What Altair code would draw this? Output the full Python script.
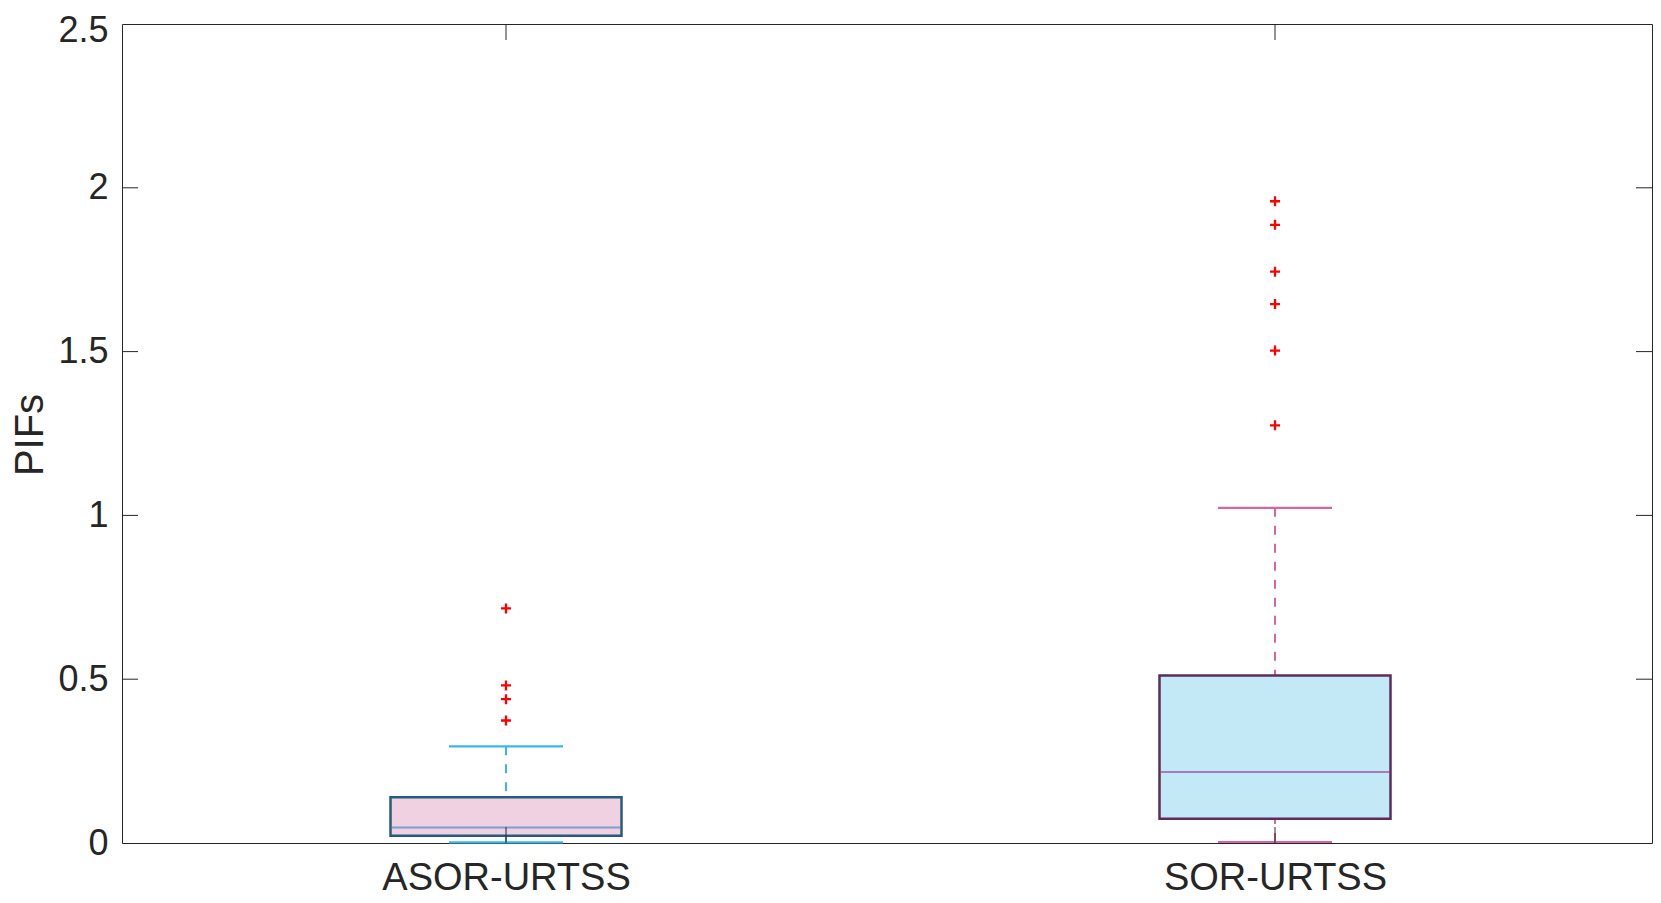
import altair as alt
import pandas as pd

# ---- data ----
categories = ["ASOR-URTSS", "SOR-URTSS"]
q1 = [0.022, 0.074]
medians = [0.047, 0.217]
q3 = [0.140, 0.511]
whisker_low = [0.002, 0.003]
whisker_high = [0.295, 1.023]
outliers_asor = [0.716, 0.481, 0.439, 0.374]
outliers_sor = [1.959, 1.887, 1.744, 1.645, 1.503, 1.275]
y_ticks = [0, 0.5, 1, 1.5, 2, 2.5]

# ---- layout / style ----
W, H = 1530, 819
BOX_PX = 231
CAP_PX = 114
FONT = "Liberation Sans"
AX = "#262626"
fills = ["#EFD1E1", "#C3E8F6"]
edges = ["#245C80", "#5E2B5E"]
med_colors = ["#7BA0D0", "#A57DB8"]
whisk_colors = ["#3DB5E8", "#D466A2"]
DASH = [9, 9]

boxes = pd.DataFrame({"cat": categories, "q1": q1, "med": medians, "q3": q3,
                      "lo": whisker_low, "hi": whisker_high})
out = pd.DataFrame({
    "cat": [categories[0]] * len(outliers_asor) + [categories[1]] * len(outliers_sor),
    "v": outliers_asor + outliers_sor,
})
ticks_df = pd.DataFrame({"v": y_ticks[1:-1]})
cats_df = pd.DataFrame({"cat": categories})

xscale = alt.Scale(type="point", domain=categories, padding=0, range=[384, 1153])
yscale = alt.Scale(domain=[0, 2.5], nice=False, zero=True)
xaxis = alt.Axis(title=None, labelFontSize=38, labelPadding=16, ticks=False, domain=False,
                 grid=False, labelColor=AX, labelFont=FONT, labelAngle=0, labelLimit=0)
yaxis = alt.Axis(title="PIFs", values=y_ticks, format=".1~f", labelFontSize=36, labelPadding=14,
                 ticks=False, domain=False, grid=False, labelColor=AX, labelFont=FONT,
                 labelFlush=False, labelOverlap=False,
                 labelOffset={"condition": {"test": "datum.value >= 2.5", "value": 6}, "value": 0},
                 titleFontSize=40, titleFontWeight="normal", titleColor=AX, titleFont=FONT,
                 titleAngle=270, titleX=-92, titleY=H / 2 + 1, titleAlign="center",
                 titleBaseline="middle")


def X():
    return alt.X("cat:N", scale=xscale, axis=xaxis)


def Y(f):
    return alt.Y(f"{f}:Q", scale=yscale, axis=yaxis)


layers = []
for i, c in enumerate(categories):
    base = alt.Chart(boxes).transform_filter(alt.datum.cat == c)
    layers.append(base.mark_rule(color=whisk_colors[i], strokeWidth=2, strokeDash=DASH)
                  .encode(x=X(), y=Y("hi"), y2="q3"))
    layers.append(base.mark_rule(color=whisk_colors[i], strokeWidth=2, strokeDash=DASH)
                  .encode(x=X(), y=Y("lo"), y2="q1"))
    layers.append(base.mark_tick(color=whisk_colors[i], size=CAP_PX, thickness=2.2, opacity=1)
                  .encode(x=X(), y=Y("hi")))
    layers.append(base.mark_tick(color=whisk_colors[i], size=CAP_PX, thickness=2.2, opacity=1)
                  .encode(x=X(), y=Y("lo")))
    layers.append(base.mark_bar(fill=fills[i], stroke=edges[i], strokeWidth=2.5, size=BOX_PX,
                                opacity=1)
                  .encode(x=X(), y=Y("q1"), y2="q3"))
    layers.append(base.mark_tick(color=med_colors[i], size=BOX_PX - 3, thickness=2, opacity=1)
                  .encode(x=X(), y=Y("med")))

layers.append(alt.Chart(out).mark_point(shape="M-1,0L1,0M0,-1L0,1", filled=False,
                                        stroke="#FF0000", strokeWidth=2.3, size=100, opacity=1)
              .encode(x=X(), y=Y("v")))

# inward axis ticks on all four sides
layers.append(alt.Chart(ticks_df).mark_rule(color=AX, strokeWidth=1)
              .encode(y=Y("v"), x=alt.value(0), x2=alt.value(16)))
layers.append(alt.Chart(ticks_df).mark_rule(color=AX, strokeWidth=1)
              .encode(y=Y("v"), x=alt.value(W - 16), x2=alt.value(W)))
layers.append(alt.Chart(cats_df).mark_rule(color=AX, strokeWidth=1)
              .encode(x=X(), y=alt.value(0), y2=alt.value(16)))
layers.append(alt.Chart(cats_df).mark_rule(color=AX, strokeWidth=1)
              .encode(x=X(), y=alt.value(H - 16), y2=alt.value(H)))

chart = (
    alt.layer(*layers)
    .properties(width=W, height=H, autosize=alt.AutoSizeParams(type="none"),
                padding={"left": 114, "top": 16, "right": 1, "bottom": 55})
    .configure(background="white")
    .configure_view(stroke=AX, strokeWidth=1)
)

chart.save("out.html", embed_options={"renderer": "svg", "actions": False})
